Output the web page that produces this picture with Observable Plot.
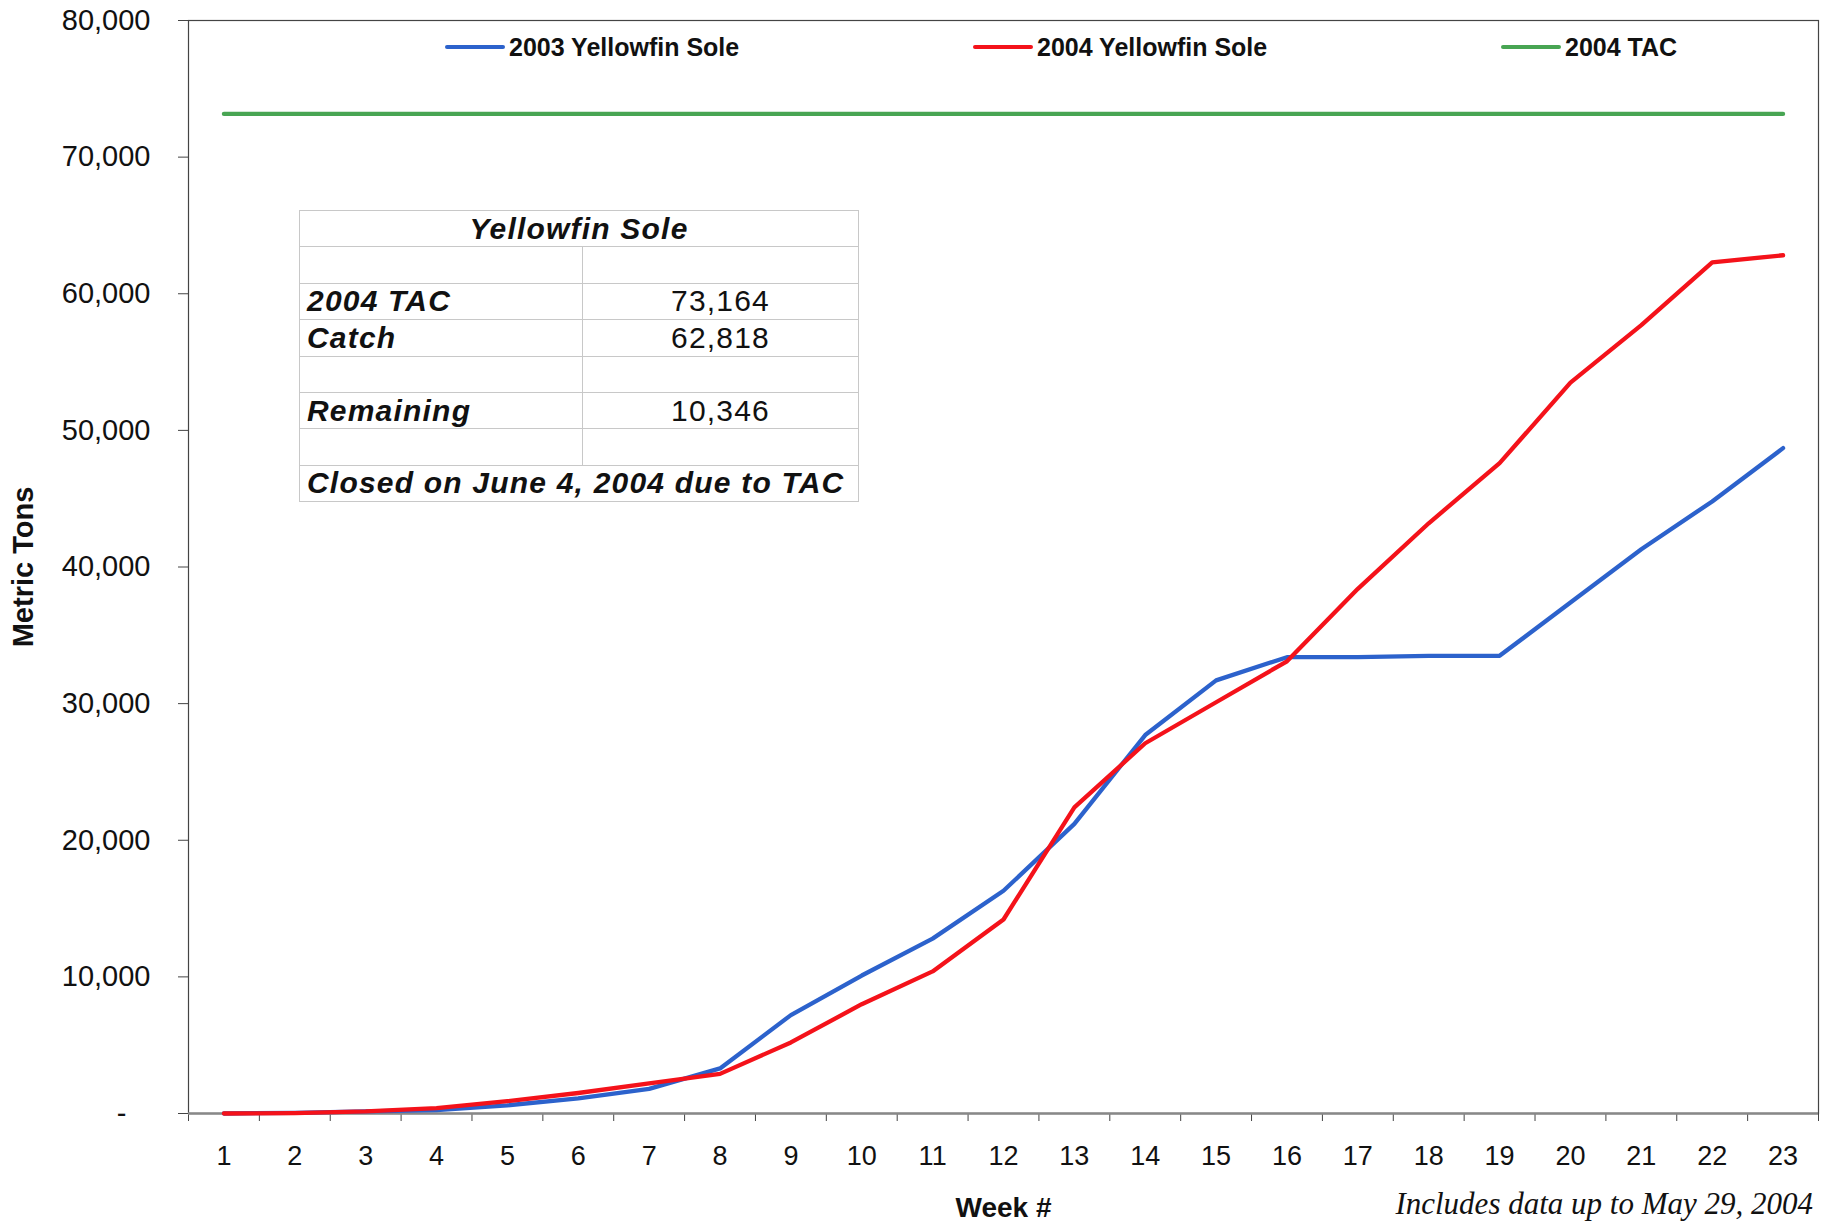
<!DOCTYPE html>
<html>
<head>
<meta charset="utf-8">
<script src="https://cdn.jsdelivr.net/npm/d3@7"></script>
<script src="https://cdn.jsdelivr.net/npm/@observablehq/plot@0.6"></script>
<style>
  html, body { margin: 0; padding: 0; background: #fff; }
  #wrap { position: relative; width: 1827px; height: 1223px; overflow: hidden; font-family: "Liberation Sans", Arial, sans-serif; }
  #wrap svg { position: absolute; left: 0; top: 0; }
  .leg { position: absolute; top: 32px; height: 30px; display: flex; align-items: center; font-weight: bold; font-size: 25px; color: #111; }
  .leg .sw { width: 60px; height: 4.5px; margin-right: 4px; border-radius: 2px; }
  #tbl { position: absolute; left: 299px; top: 210px; width: 560px; border-collapse: collapse; font-size: 30px; color: #111; }
  #tbl td { border: 1.5px solid #c8c8c8; height: 35.4px; padding: 0 7px; line-height: 1; letter-spacing: 1.2px; }
  #tbl td.lab { font-weight: bold; font-style: italic; width: 268px; }
  #tbl td.num { text-align: center; }
  #tbl td.ttl { font-weight: bold; font-style: italic; text-align: center; }
  #cap { position: absolute; right: 14px; top: 1188px; font-family: "Liberation Serif", "Times New Roman", serif; font-style: italic; font-size: 31px; line-height: 31px; color: #111; white-space: nowrap; }
</style>
</head>
<body>
<div id="wrap"></div>
<script>
// ---- data ----
const weeks = [1,2,3,4,5,6,7,8,9,10,11,12,13,14,15,16,17,18,19,20,21,22,23];
const yfs2003 = [0, 50, 150, 250, 600, 1100, 1800, 3300, 7200, 10100, 12800, 16300, 21200, 27700, 31700, 33400, 33400, 33500, 33500, 37400, 41300, 44800, 48700];
const yfs2004 = [0, 30, 150, 400, 900, 1500, 2200, 2900, 5200, 8000, 10400, 14200, 22400, 27100, 30100, 33100, 38400, 43200, 47600, 53500, 57700, 62300, 62818];
const tac2004 = [73164,73164,73164,73164,73164,73164,73164,73164,73164,73164,73164,73164,73164,73164,73164,73164,73164,73164,73164,73164,73164,73164,73164];
const seriesNames = ["2003 Yellowfin Sole", "2004 Yellowfin Sole", "2004 TAC"];
const seriesColors = ["#2c62cc", "#f4121a", "#48a553"];
const yTicks = [0, 10000, 20000, 30000, 40000, 50000, 60000, 70000, 80000];
const tableTitle = "Yellowfin Sole";
const tableLabels = ["2004 TAC", "Catch", "Remaining"];
const tableValues = ["73,164", "62,818", "10,346"];
const tableNote = "Closed on June 4, 2004 due to TAC";
const xTitle = "Week #";
const yTitle = "Metric Tons";
const caption = "Includes data up to May 29, 2004";

// ---- build ----
const seriesValues = [yfs2003, yfs2004, tac2004];
const rows = [];
seriesNames.forEach((name, s) => weeks.forEach((w, i) => rows.push({series: name, week: w, value: seriesValues[s][i]})));
const boundaries = weeks.map(w => w - 0.5).concat([weeks[weeks.length - 1] + 0.5]);
const fmt = d3.format(",");

const chart = Plot.plot({
  width: 1827,
  height: 1223,
  marginTop: 20,
  marginLeft: 188,
  marginRight: 9,
  marginBottom: 110,
  style: {fontFamily: "'Liberation Sans', Arial, sans-serif", color: "#111", background: "transparent"},
  x: {type: "linear", domain: [0.5, 23.5], axis: null},
  y: {domain: [0, 80000], axis: null},
  color: {domain: seriesNames, range: seriesColors},
  marks: [
    Plot.axisY(yTicks, {tickSize: 10, tickPadding: 28, fontSize: 29, stroke: "#444",
      tickFormat: d => d === 0 ? "-\u00a0\u00a0\u00a0" : fmt(d), label: null}),
    Plot.axisX(boundaries, {tickSize: 8, tickFormat: () => "", stroke: "#444", label: null}),
    Plot.axisX(weeks, {tickSize: 0, tickPadding: 32, fontSize: 27, tickFormat: d => String(d), label: null}),
    Plot.frame({stroke: "#444", strokeWidth: 1.2}),
    Plot.ruleY([0], {stroke: "#888", strokeWidth: 2.5}),
    Plot.line(rows, {x: "week", y: "value", z: "series", stroke: "series", strokeWidth: 4.3, strokeLinejoin: "round"}),
    Plot.text([xTitle], {text: d => d, frameAnchor: "bottom", dy: 103, fontSize: 28, fontWeight: "bold"}),
    Plot.text([yTitle], {text: d => d, frameAnchor: "left", textAnchor: "middle", dx: -165, rotate: -90, fontSize: 29, fontWeight: "bold"})
  ]
});

const wrap = document.getElementById("wrap");
wrap.appendChild(chart);

// legend (inside plot area, top)
const legLeft = [445, 973, 1501];
seriesNames.forEach((name, i) => {
  const d = document.createElement("div");
  d.className = "leg";
  d.style.left = legLeft[i] + "px";
  d.innerHTML = `<span class="sw" style="background:${seriesColors[i]}"></span><span>${name}</span>`;
  wrap.appendChild(d);
});

// summary table
const t = document.createElement("table");
t.id = "tbl";
let html = `<tr><td class="ttl" colspan="2">${tableTitle}</td></tr>`;
html += `<tr><td class="lab"></td><td class="num"></td></tr>`;
html += `<tr><td class="lab">${tableLabels[0]}</td><td class="num">${tableValues[0]}</td></tr>`;
html += `<tr><td class="lab">${tableLabels[1]}</td><td class="num">${tableValues[1]}</td></tr>`;
html += `<tr><td class="lab"></td><td class="num"></td></tr>`;
html += `<tr><td class="lab">${tableLabels[2]}</td><td class="num">${tableValues[2]}</td></tr>`;
html += `<tr><td class="lab"></td><td class="num"></td></tr>`;
html += `<tr><td class="lab" colspan="2">${tableNote}</td></tr>`;
t.innerHTML = html;
wrap.appendChild(t);

const c = document.createElement("div");
c.id = "cap";
c.textContent = caption;
wrap.appendChild(c);
</script>
</body>
</html>
